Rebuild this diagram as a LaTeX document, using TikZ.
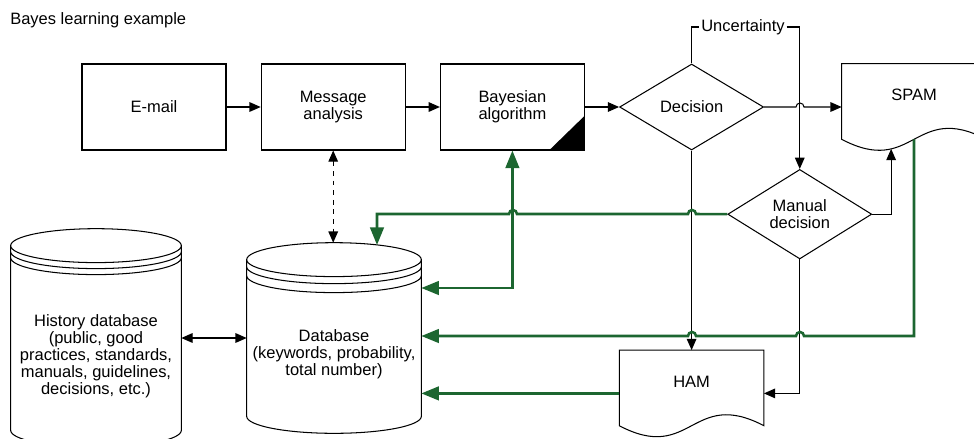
\documentclass[tikz,border=0pt]{standalone}
\usepackage{fontspec}
\setmainfont{Liberation Sans}
\usetikzlibrary{positioning,shapes.geometric,arrows.meta,calc}
\definecolor{flowgreen}{RGB}{28,102,48}

% drum (stacked disk store) round a node: node, y radius, two ring gaps
\newcommand{\drumline}[4]{%
  \draw[thin line] let \p1=(#1.north west), \p2=(#1.south east), \n1={(\x2-\x1)/2} in
    (\x1,\y1-#2) -- (\x1,\y2+#2) arc[start angle=180,end angle=360,x radius=\n1,y radius=#2]
    -- (\x2,\y1-#2)
    (#1.north) ++(0,-#2) ellipse[x radius=\n1,y radius=#2]
    (\x1,\y1-#2-#3) arc[start angle=180,end angle=360,x radius=\n1,y radius=#2]
    (\x1,\y1-#2-#4) arc[start angle=180,end angle=360,x radius=\n1,y radius=#2];}
% paper sheet with a wavy lower edge round a node
\newcommand{\paperline}[1]{%
  \draw[thin line] (#1.north west) -- ($(#1.south west)+(0,-11)$)
    .. controls ($(#1.south)+(0,27)$) and ($(#1.south)+(0,-49)$) .. ($(#1.south east)+(0,-11)$)
    coordinate[pos=0.3] (#1 dip) coordinate[pos=0.5] (#1 mid)
    -- (#1.north east) -- cycle;}

\begin{document}
\begin{tikzpicture}[x=0.625pt,y=-0.625pt,node distance=112pt,on grid,
font=\fontsize{10.3pt}{10.6pt}\selectfont,
thin line/.style={line width=.65pt},
box/.style={draw,thin line,minimum width=90pt,minimum height=53.75pt,inner sep=0pt,align=center},
choice/.style={diamond,draw,thin line,minimum width=90pt,minimum height=53.75pt,inner sep=0pt,align=center},
paper/.style={minimum width=90pt,minimum height=53.75pt,inner sep=0pt,text depth=15pt},
store/.style={inner sep=0pt,minimum height=#1},
flow/.style={thin line,-{Triangle[length=7pt,width=6pt]}},
both flow/.style={thin line,{Triangle[length=7pt,width=6pt]}-{Triangle[length=7pt,width=6pt]}},
green flow/.style={flowgreen,line width=1.6pt,-{Triangle[length=11pt,width=8.5pt]}}]
\useasboundingbox (0,0) rectangle (974,438);
\clip (0,0) rectangle (974,438);

\node[anchor=west,inner sep=0pt] (title) at (10,20) {Bayes learning example};

% top row
\node[box] (mail) at (154,107) {E-mail};
\node[box] (msg) [right=of mail] {Message\\analysis};
\node[box] (bayes) [right=of msg] {Bayesian\\algorithm};
\fill ($(bayes.south east)+(-36,0)$) -- (bayes.south east) -- ($(bayes.south east)+(0,-35)$) -- cycle;
\node[choice] (decision) [right=of bayes] {Decision};
\node[choice] (manual) [below right=67pt and 67.6pt of decision] {Manual\\decision};
\node[inner sep=1pt] (unsure) at (743,27) {Uncertainty};

% outputs
\node[paper] (spam) [right=139pt of decision] {SPAM};
\paperline{spam}
\node[paper] (ham) [below=179pt of decision] {HAM};
\paperline{ham}

% stores
\node[store=118.75pt,minimum width=108.75pt,
  label={[name=dbtext,align=center,yshift=-10pt]center:Database\\(keywords, probability,\\total number)}]
  (db) at (334,338) {};
\drumline{db}{10.6pt}{4.4pt}{10pt}
\node[store=136.25pt,minimum width=106.25pt,
  label={[name=histtext,align=center,yshift=-11.5pt]center:History database\\(public, good\\practices, standards,\\manuals, guidelines,\\decisions, etc.)}]
  (hist) at (96,338) {};
\drumline{hist}{10.6pt}{3.75pt}{7.5pt}
\coordinate (db top in) at (377,245);

% black flow
\draw[flow] (mail) -- (msg);
\draw[flow] (msg) -- (bayes);
\draw[flow] (bayes) -- (decision);
\draw[flow] (decision.east) -- (796,107) arc[start angle=180,end angle=360,radius=4]
  -- (spam.west |- decision.east);
\draw[thin line] (decision.north) |- (unsure.west);
\draw[flow] (unsure.east) -| (manual.north);
\draw[flow] (manual.east) -| (spam dip);
\draw[flow] (decision.south) -- (ham.north);
\draw[flow] (manual.south) |- (ham.east);
\draw[both flow,dashed] (msg.south) -- (msg.south |- db.north);
\draw[both flow] (hist.east) -- (db.west);

% learning feedback
\draw[green flow] (manual.west) -- (696,214) arc[start angle=0,end angle=-180,radius=4]
  -- (517,214) arc[start angle=0,end angle=-180,radius=4] -- (377,214) -- (db top in);
\draw[green flow,{Triangle[length=11pt,width=8.5pt]}-{Triangle[length=11pt,width=8.5pt]}]
  (bayes.south) |- (db.east |- 0,288);
\draw[green flow] (spam mid) |- (804,336) arc[start angle=0,end angle=-180,radius=4]
  -- (696,336) arc[start angle=0,end angle=-180,radius=4] -- (db.east |- 0,336);
\draw[green flow] (ham.west) -- (ham.west -| db.east);
\end{tikzpicture}
\end{document}
